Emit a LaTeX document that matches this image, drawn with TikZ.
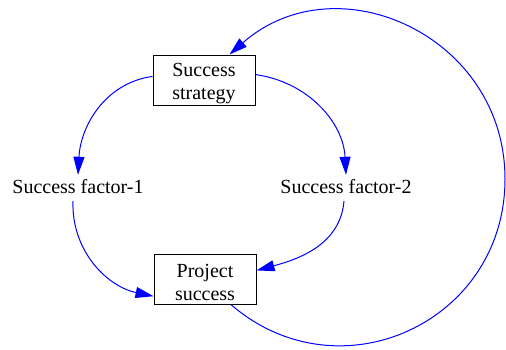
\documentclass[tikz,border=0pt]{standalone}
\usepackage{fontspec}
\setmainfont{Liberation Serif}
\usetikzlibrary{arrows.meta}
\begin{document}
\begin{tikzpicture}[x=1pt,y=1pt,
  font=\fontsize{20}{23}\selectfont,
  box/.style={draw=black,line width=1pt,minimum width=102pt,minimum height=50pt,align=center,inner xsep=2pt,inner ysep=1pt},
  factor/.style={anchor=base,text height=14pt,text depth=4pt,inner ysep=4pt,inner xsep=2pt},
  edge/.style={draw=blue,line width=1pt,-{Triangle[length=18pt,width=11pt]}}]
\useasboundingbox (0,0) rectangle (506,349);
% nodes (the strut lowers the two-line labels inside the boxes)
\node[box] (ss) at (204,269) {\rule{0pt}{20pt}Success\\strategy};
\node[box] (ps) at (205,69.5) {\rule{0pt}{20pt}Project\\success};
\node[factor] (f1) at (78,156) {Success factor-1};
\node[factor] (f2) at (346,156) {Success factor-2};
\coordinate (rt) at (505,170);
% connectors
\draw[edge] (ss.176) to[out=188,in=87,looseness=1.0] (f1.north);
\draw[edge] (ss.6) to[out=-8,in=93,looseness=1.0] (f2.north);
\draw[edge] ([xshift=-5pt]f1.south) to[out=-92,in=168,looseness=1.0] (ps.198);
\draw[edge] ([xshift=-2pt]f2.south) to[out=-95,in=15,looseness=1.0] (ps.10);
\draw[edge] (ps.-44) .. controls +(-40.6:143) and +(-90:143) .. (rt)
  .. controls +(90:143) and +(41.3:143) .. (ss.45);
\end{tikzpicture}
\end{document}
